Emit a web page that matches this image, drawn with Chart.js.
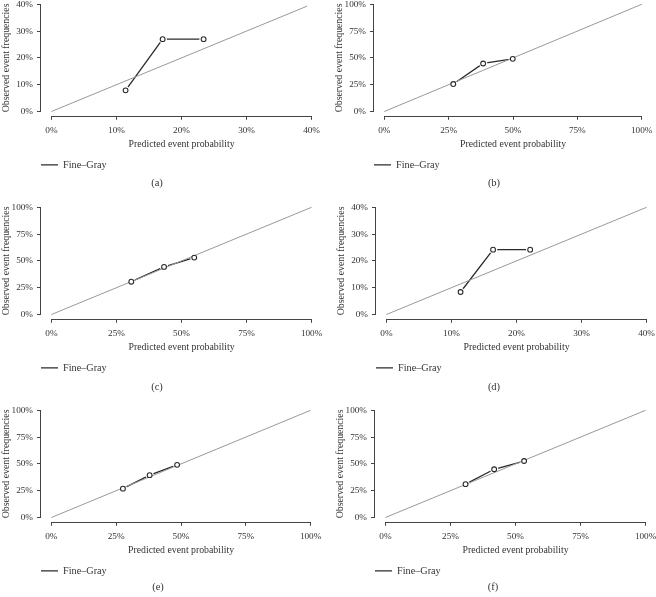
<!DOCTYPE html>
<html>
<head>
<meta charset="utf-8">
<script src="https://cdn.jsdelivr.net/npm/chart.js@4.4.1/dist/chart.umd.min.js"></script>
<style>
  html, body { margin: 0; padding: 0; background: #fff; overflow: hidden; }
  body { width: 656px; height: 597px; position: relative; }
  canvas { position: absolute; }
  .cap { position: absolute; width: 60px; text-align: center; font: 10.5px "Liberation Serif", serif; color: #333; }
</style>
</head>
<body>
<script>
/* DATA */
const captions = ['(a)', '(b)', '(c)', '(d)', '(e)', '(f)'];
const axisMax = [40, 100, 100, 40, 100, 100];
const ticks40 = [0, 10, 20, 30, 40];
const ticks100 = [0, 25, 50, 75, 100];
const diagEnd = [39.3, 100, 100, 40, 100, 100];

const predA = [11.4, 17.1, 23.4], obsA = [7.9, 27.0, 27.0];
const predB = [26.8, 38.4, 49.9], obsB = [25.6, 44.8, 49.1];
const predC = [30.7, 43.3, 54.9], obsC = [30.6, 44.4, 53.1];
const predD = [11.4, 16.4, 22.1], obsD = [8.4, 24.2, 24.2];
const predE = [27.6, 37.9, 48.5], obsE = [26.9, 39.5, 49.1];
const predF = [30.8, 41.8, 53.3], obsF = [31.1, 45.0, 52.7];

const seriesName = 'Fine–Gray';
const xTitle = 'Predicted event probability';
const yTitle = 'Observed event frequencies';

const preds = [predA, predB, predC, predD, predE, predF];
const obs = [obsA, obsB, obsC, obsD, obsE, obsF];

/* LAYOUT */
const FONT = '"Liberation Serif", serif';
const TXT = '#333';
const AXIS = '#444';
const H = 190;
const boxes = [
  {l: 0,   t: -10, w: 328, cx: 157, cy: 184},
  {l: 333, t: -10, w: 325, cx: 494, cy: 184},
  {l: 0,   t: 193, w: 328, cx: 157, cy: 388},
  {l: 335, t: 193, w: 328, cx: 494, cy: 388},
  {l: 0,   t: 396, w: 327, cx: 158, cy: 588},
  {l: 334, t: 396, w: 328, cx: 493, cy: 588}
];

/* axis lines only from first to last tick, like base R */
const rAxes = {
  id: 'rAxes',
  afterDraw(chart) {
    const {ctx, chartArea: a, scales: {x, y}} = chart;
    const xt = x.ticks, yt = y.ticks;
    ctx.save();
    ctx.strokeStyle = AXIS;
    ctx.lineWidth = 1;
    ctx.beginPath();
    ctx.moveTo(x.getPixelForValue(xt[0].value), Math.round(a.bottom) + 0.5);
    ctx.lineTo(x.getPixelForValue(xt[xt.length - 1].value), Math.round(a.bottom) + 0.5);
    ctx.moveTo(Math.round(a.left) - 0.5, y.getPixelForValue(yt[0].value));
    ctx.lineTo(Math.round(a.left) - 0.5, y.getPixelForValue(yt[yt.length - 1].value));
    ctx.stroke();
    ctx.restore();
  }
};

function pts(i) {
  return preds[i].map((p, k) => ({x: p, y: obs[i][k]}));
}

function makePanel(i) {
  const b = boxes[i];
  const m = axisMax[i];
  const tk = m === 40 ? ticks40 : ticks100;

  const cv = document.createElement('canvas');
  cv.width = b.w; cv.height = H;
  cv.style.left = b.l + 'px'; cv.style.top = b.t + 'px';
  document.body.appendChild(cv);

  const cap = document.createElement('div');
  cap.className = 'cap';
  cap.textContent = captions[i];
  cap.style.left = (b.cx - 30) + 'px';
  cap.style.top = (b.cy - 7) + 'px';
  document.body.appendChild(cap);

  const scale = (title, fit, pad) => ({
    type: 'linear',
    min: -0.04 * m, max: 1.04 * m,
    afterBuildTicks: s => { s.ticks = tk.map(v => ({value: v})); },
    afterFit: fit,
    grid: {drawOnChartArea: false, tickLength: 4, color: AXIS},
    border: {display: false},
    ticks: {padding: pad, color: TXT, font: {family: FONT, size: 9.2}, autoSkip: false, maxRotation: 0,
            callback: v => v + '%'},
    title: {display: true, text: title, color: TXT, font: {family: FONT, size: 9.8}, padding: {top: 0, bottom: 9}}
  });

  const yScale = scale(yTitle, s => { s.width = 41; }, 4);
  yScale.title.padding = {top: 1, bottom: 0};

  new Chart(cv, {
    type: 'scatter',
    data: {
      datasets: [
        {label: seriesName, data: pts(i), showLine: true, borderColor: '#2a2a2a', borderWidth: 1.3,
         pointRadius: 0, order: 4},
        {label: '', data: pts(i), pointRadius: 4.2, pointBackgroundColor: '#fff', pointBorderWidth: 0, order: 3},
        {label: '', data: [{x: 0, y: 0}, {x: diagEnd[i], y: diagEnd[i]}], showLine: true,
         borderColor: '#999', borderWidth: 1, pointRadius: 0, order: 2},
        {label: '', data: pts(i), pointRadius: 2.4, pointBackgroundColor: '#fff', pointBorderColor: '#2a2a2a',
         pointBorderWidth: 1.1, order: 1}
      ]
    },
    options: {
      responsive: false,
      animation: false,
      events: [],
      layout: {padding: {left: 0, right: 6, top: 10, bottom: 0}},
      scales: {
        x: scale(xTitle, s => { s.height = 44; }, 5),
        y: yScale
      },
      plugins: {
        tooltip: {enabled: false},
        legend: {
          position: 'bottom', align: 'start', fullSize: false,
          labels: {filter: it => it.text === seriesName, usePointStyle: true, pointStyle: 'line',
                   pointStyleWidth: 17, padding: 0, color: TXT, font: {family: FONT, size: 10.2}}
        }
      }
    },
    plugins: [rAxes]
  });
}

for (let i = 0; i < 6; i++) makePanel(i);
</script>
</body>
</html>
